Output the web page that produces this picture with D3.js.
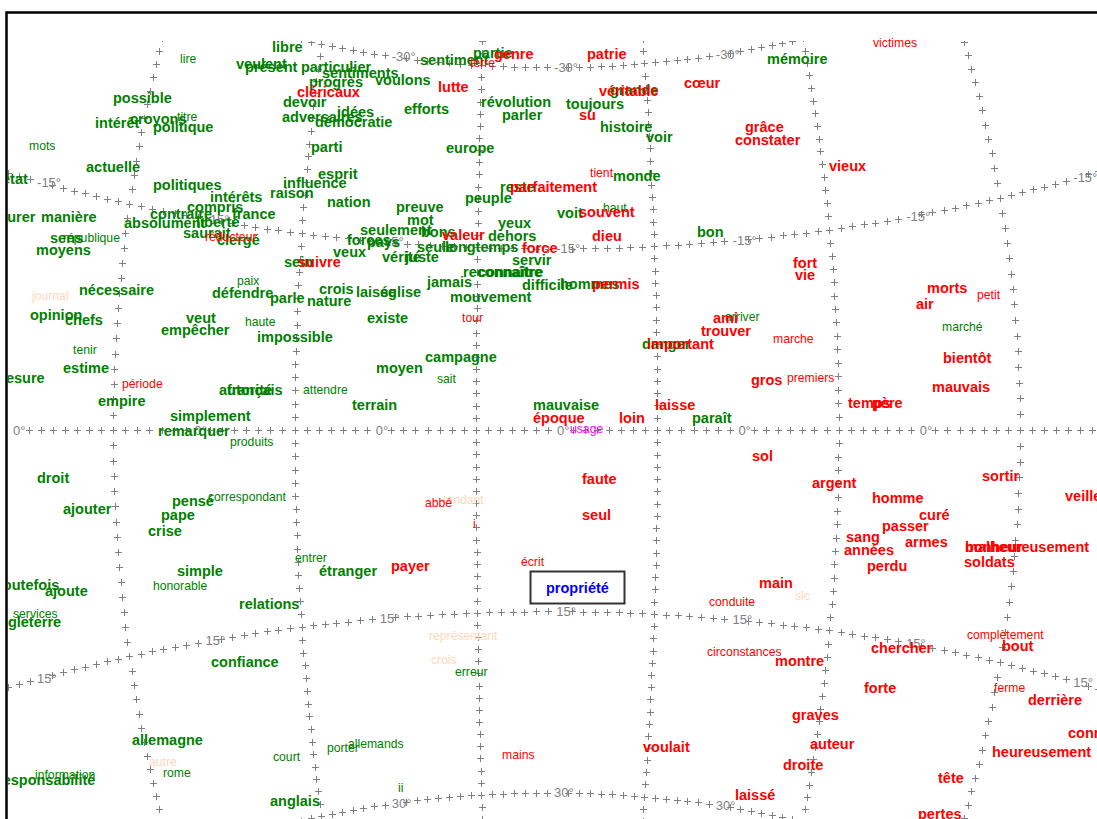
<!DOCTYPE html>
<html><head><meta charset="utf-8">
<script src="https://cdn.jsdelivr.net/npm/d3@7"></script>
<style>body{margin:0;background:#fff;overflow:hidden} svg{display:block}</style>
</head><body>
<script>
// ---------- graticule data ----------
const parallels = [-30, -15, 0, 15, 30];
const parallelLabels = ["-30°", "-15°", "0°", "15°", "30°"];
const meridians = [-30, -15, 0, 15, 30, 45];

// ---------- words: [text, axis1, axis2, frequent(1)/rare(0)] ----------
const greenWords = [
 ["lire",-38.6,-37.1,0],["veulent",-33.0,-36.6,1],["présent",-32.1,-36.3,1],["libre",-29.4,-38.3,1],
 ["possible",-45.3,-33.2,1],["intérêt",-47.1,-30.7,1],["croyons",-43.6,-31.1,1],["titre",-38.9,-31.3,0],
 ["politique",-41.3,-30.3,1],["mots",-53.7,-28.4,0],["actuelle",-48.0,-26.3,1],["état",-56.4,-25.1,1],
 ["politiques",-41.3,-24.5,1],["intérêts",-35.6,-23.3,1],["raison",-29.6,-23.7,1],["compris",-37.9,-22.3,1],
 ["assurer",-58.3,-21.3,1],["manière",-52.5,-21.3,1],["contraire",-41.6,-21.6,1],["france",-33.4,-21.6,1],
 ["absolument",-44.2,-20.7,1],["liberté",-37.0,-20.8,1],["saurait",-38.3,-19.7,1],["clergé",-34.9,-19.0,1],
 ["sens",-51.6,-19.2,1],["république",-50.3,-19.2,0],["moyens",-53.0,-18.0,1],["paix",-32.9,-14.9,0],
 ["particulier",-26.5,-36.3,1],["sentiments",-24.4,-35.7,1],["progrès",-25.7,-34.8,1],["voulons",-19.1,-35.0,1],
 ["sentiment",-14.6,-37.0,1],["partie",-9.3,-37.7,1],["devoir",-28.3,-32.8,1],["révolution",-8.5,-32.8,1],
 ["idées",-22.9,-31.8,1],["adversaires",-28.4,-31.3,1],["démocratie",-25.1,-30.8,1],["efforts",-16.2,-32.1,1],
 ["parler",-6.4,-31.5,1],["parti",-25.5,-28.3,1],["europe",-12.0,-28.2,1],["esprit",-24.8,-25.6,1],
 ["influence",-28.3,-24.7,1],["nation",-23.9,-22.8,1],["preuve",-17.0,-22.3,1],["peuple",-10.1,-23.2,1],
 ["reste",-6.6,-24.3,1],["mot",-15.9,-21.0,1],["seulement",-20.6,-20.0,1],["bons",-14.5,-19.8,1],
 ["dehors",-7.8,-19.4,1],["yeux",-6.8,-20.7,1],["forces",-21.9,-19.0,1],["pays",-19.9,-18.8,1],
 ["seule",-14.9,-18.3,1],["longtemps",-12.1,-18.3,1],["veux",-23.3,-17.8,1],["vérité",-18.4,-17.3,1],
 ["juste",-16.1,-17.3,1],["sein",-28.2,-16.8,1],["servir",-5.4,-17.0,1],["reconnaître",-10.3,-15.8,1],
 ["connaître",-8.8,-15.8,1],["jamais",-13.9,-14.8,1],["mémoire",20.1,-37.1,1],["grande",4.4,-34.0,1],
 ["toujours",0.0,-32.6,1],["histoire",3.4,-30.3,1],["voir",8.0,-29.3,1],["monde",4.7,-25.4,1],
 ["voit",-0.9,-21.7,1],["haut",3.7,-22.2,0],["bon",13.1,-19.8,1],["hommes",-0.6,-14.6,1],
 ["difficile",-4.4,-14.5,1],["nécessaire",-48.7,-14.0,1],["défendre",-35.4,-13.7,1],["parle",-29.6,-13.2,1],
 ["opinion",-53.6,-11.5,1],["chefs",-50.1,-11.0,1],["veut",-38.0,-11.2,1],["empêcher",-40.5,-10.0,1],
 ["haute",-32.1,-10.8,0],["impossible",-30.9,-9.3,1],["tenir",-49.3,-8.0,0],["estime",-50.3,-6.2,1],
 ["mesure",-57.3,-5.2,1],["empire",-46.8,-2.9,1],["autorité",-34.7,-4.0,1],["français",-33.9,-4.0,1],
 ["simplement",-39.6,-1.4,1],["remarquer",-40.8,0.1,1],["produits",-33.6,1.2,0],["droit",-52.9,4.8,1],
 ["pensé",-39.4,7.1,1],["correspondant",-35.8,6.7,0],["ajouter",-50.3,7.9,1],["pape",-40.5,8.5,1],
 ["crise",-41.8,10.1,1],["crois",-24.7,-14.1,1],["laisse",-21.0,-13.8,1],["église",-18.6,-13.8,1],
 ["nature",-25.9,-12.9,1],["mouvement",-11.6,-13.3,1],["existe",-19.9,-11.2,1],["campagne",-14.1,-7.3,1],
 ["moyen",-19.0,-6.2,1],["sait",-12.9,-5.1,0],["attendre",-26.3,-4.0,0],["terrain",-21.4,-2.5,1],
 ["arriver",15.9,-11.3,0],["danger",7.6,-8.6,1],["mauvaise",-3.3,-2.5,1],["paraît",12.6,-1.2,1],
 ["marché",37.6,-10.3,0],["entrer",-27.1,12.8,0],["étranger",-24.7,14.1,1],["relations",-32.7,17.4,1],
 ["erreur",-11.1,24.2,0],["porter",-23.9,31.8,0],["allemands",-21.8,31.4,0],["court",-29.3,32.7,0],
 ["ii",-16.8,35.8,0],["anglais",-29.6,37.1,1],["simple",-38.9,14.1,1],["honorable",-41.3,15.6,0],
 ["toutefois",-56.8,15.5,1],["ajoute",-52.1,16.1,1],["services",-55.3,18.4,0],["angleterre",-57.5,19.2,1],
 ["confiance",-35.5,23.2,1],["allemagne",-43.4,31.0,1],["rome",-40.3,34.3,0],["responsabilité",-56.9,35.0,1],
 ["information",-53.1,34.5,0]
];
const redWords = [
 ["réducteur",-36.1,-19.3,0],["genre",-7.2,-37.6,1],["terre",-9.6,-36.7,0],["cléricaux",-26.9,-33.8,1],
 ["lutte",-12.8,-34.3,1],["valeur",-12.4,-19.5,1],["force",-4.4,-18.2,1],["suivre",-26.8,-16.8,1],
 ["patrie",2.1,-37.6,1],["cœur",11.8,-34.7,1],["véritable",3.3,-33.9,1],["su",1.3,-31.5,1],
 ["grâce",17.9,-30.3,1],["constater",16.9,-29.0,1],["tient",2.4,-25.7,0],["parfaitement",-5.6,-24.3,1],
 ["souvent",1.3,-21.8,1],["dieu",2.6,-19.4,1],["fort",22.7,-16.7,1],["vie",22.9,-15.5,1],
 ["permis",2.6,-14.6,1],["victimes",30.7,-38.7,0],["vieux",26.3,-26.4,1],["période",-44.4,-4.6,0],
 ["tour",-10.4,-11.2,0],["abbé",-14.1,7.3,0],["i",-9.3,9.4,0],["ami",14.7,-11.2,1],
 ["trouver",13.5,-9.9,1],["marche",20.7,-9.1,0],["important",8.1,-8.6,1],["gros",18.5,-5.0,1],
 ["premiers",22.1,-5.2,0],["époque",-3.3,-1.2,1],["loin",5.3,-1.2,1],["laisse",8.9,-2.5,1],
 ["sol",18.6,2.6,1],["faute",1.6,4.9,1],["seul",1.6,8.5,1],["argent",24.6,5.3,1],
 ["morts",36.1,-14.2,1],["petit",41.1,-13.5,0],["air",35.0,-12.6,1],["bientôt",37.7,-7.2,1],
 ["mauvais",36.6,-4.3,1],["temps",28.2,-2.7,1],["père",30.6,-2.7,1],["sortir",41.6,4.6,1],
 ["veille",49.9,6.6,1],["homme",30.6,6.8,1],["curé",35.3,8.5,1],["passer",31.6,9.6,1],
 ["sang",28.0,10.7,1],["armes",33.9,11.2,1],["malheureusement",39.9,11.7,1],["bonheur",39.9,11.7,1],
 ["années",27.8,12.0,1],["soldats",39.8,13.2,1],["perdu",30.1,13.6,1],["complètement",40.1,20.5,0],
 ["bout",43.6,21.6,1],["chercher",30.5,21.8,1],["forte",29.8,25.8,1],["ferme",42.8,25.8,0],
 ["derrière",46.2,27.0,1],["connaissance",50.2,30.3,1],["heureusement",42.6,32.2,1],["tête",37.2,34.8,1],
 ["pertes",35.2,38.4,1],["écrit",-4.5,13.2,0],["main",19.3,15.3,1],["conduite",14.3,17.2,0],
 ["circonstances",14.1,22.2,0],["montre",20.9,23.1,1],["voulait",7.7,31.7,1],["laissé",16.9,36.5,1],
 ["graves",22.6,28.5,1],["auteur",24.4,31.4,1],["droite",21.7,33.5,1],["payer",-17.5,13.6,1],
 ["mains",-6.4,32.5,0]
];
const peachWords = [
 ["journal",-53.4,-13.4,0],["tendant",-12.3,7.0,0],["slc",22.9,16.6,0],
 ["représentant",-13.7,20.6,0],["crois",-13.5,23.0,0],["autre",-41.7,33.2,0]
];
const magentaWords = [["usage",0.4,-0.1,0]];
const focusWords = [["propriété",-2.0,15.8,1]];

// ---------- setup ----------
const W = 1097, H = 819;
const svg = d3.select("body").append("svg").attr("width", W).attr("height", H);
const defs = svg.append("defs");
defs.append("clipPath").attr("id","frameClip").append("rect").attr("x",8).attr("y",14).attr("width",W).attr("height",H);
defs.append("clipPath").attr("id","gratClip").append("rect").attr("x",8).attr("y",41).attr("width",W).attr("height",H);

const xScale = d3.scaleLinear().domain([-56.6, 53.1]).range([0, W]);
const yScale = d3.scaleLinear().domain([-43, 38.9]).range([0, H]);

// graticule projection (curved map grid)
const lonScale = d3.scaleLinear().domain([0, 15]).range([475.9, 657.25]);
const latScale = d3.scaleLinear().domain([0, 15]).range([430, 611.35]);
function proj(T, phi) {
  const xe = lonScale(T);
  const d = (xe - 552) / 12.09;
  const k = 2.03e-4 * (1 - 3.36e-4 * phi * phi);
  const y = 430 + (latScale(phi) - 430) * (1 + k * d * d);
  const s = 7.6e-7 * (y - 430) * (y - 430);
  const x = 531 + (xe - 531) * (1 - s);
  return [x, y];
}

const pluses = [], gLabels = [];
parallels.forEach((phi, i) => {
  for (let T = -52; T <= 58; T++) {
    if ((((T - 7) % 15) + 15) % 15 === 0) { gLabels.push({p: proj(T, phi), text: parallelLabels[i]}); continue; }
    pluses.push(proj(T, phi));
  }
});
meridians.forEach(T => {
  for (let phi = -36; phi <= 36; phi++) {
    if (parallels.includes(phi)) continue;
    pluses.push(proj(T, phi));
  }
});

const content = svg.append("g").attr("clip-path","url(#frameClip)");
const grat = content.append("g").attr("clip-path","url(#gratClip)");
grat.selectAll("path.plus").data(pluses).join("path").attr("class","plus")
  .attr("d", d => { const x = Math.round(d[0]), y = Math.round(d[1]);
    return `M${x-3},${y+0.5}h7M${x+0.5},${y-3}v7`; })
  .attr("stroke","#808080").attr("stroke-width",1).attr("fill","none");
grat.selectAll("text.glab").data(gLabels).join("text").attr("class","glab")
  .attr("x", d => d.p[0] - 3.5).attr("y", d => d.p[1]).attr("dy","0.36em")
  .attr("font-family","'Liberation Sans', Arial, sans-serif").attr("font-size",13)
  .attr("fill","#808080").text(d => d.text);

// words
const groups = [
  {name:"green", data: greenWords},
  {name:"peach", data: peachWords},
  {name:"red", data: redWords},
  {name:"magenta", data: magentaWords}
];
const color = d3.scaleOrdinal().domain(["green","red","peach","magenta","focus"])
  .range(["#008000","#ff0000","#fdd9bc","#ff00ff","#0000ff"]);
const fsize = d3.scaleOrdinal().domain([0,1]).range([12.2, 14.5]);
const fweight = d3.scaleOrdinal().domain([0,1]).range(["normal","bold"]);

const wordsG = content.append("g").attr("font-family","'Liberation Sans', Arial, sans-serif");
groups.forEach(gr => {
  wordsG.append("g").selectAll("text").data(gr.data).join("text")
    .attr("x", d => xScale(d[1])).attr("y", d => yScale(d[2])).attr("dy","0.36em")
    .attr("font-size", d => fsize(d[3])).attr("font-weight", d => fweight(d[3]))
    .attr("fill", color(gr.name)).text(d => d[0]);
});

// focus word in a box
const focusG = wordsG.append("g");
const boxR = focusG.append("rect");
const ft = focusG.selectAll("text").data(focusWords).join("text")
  .attr("x", d => xScale(d[1])).attr("y", d => yScale(d[2])).attr("dy","0.36em")
  .attr("font-size", d => fsize(d[3])).attr("font-weight", d => fweight(d[3]))
  .attr("fill", color("focus")).text(d => d[0]);
const bb = ft.node().getBBox();
boxR.attr("x", Math.round(bb.x - 16) + 0.5).attr("y", Math.round(bb.y - 9) + 0.5)
  .attr("width", Math.round(bb.width + 31)).attr("height", Math.round(bb.height + 16))
  .attr("fill","#fff").attr("stroke","#333").attr("stroke-width",2);

// frame
svg.append("rect").attr("x",6.5).attr("y",12.5).attr("width",W+20).attr("height",H+20)
  .attr("fill","none").attr("stroke","#000").attr("stroke-width",2.5);
</script>
</body></html>
